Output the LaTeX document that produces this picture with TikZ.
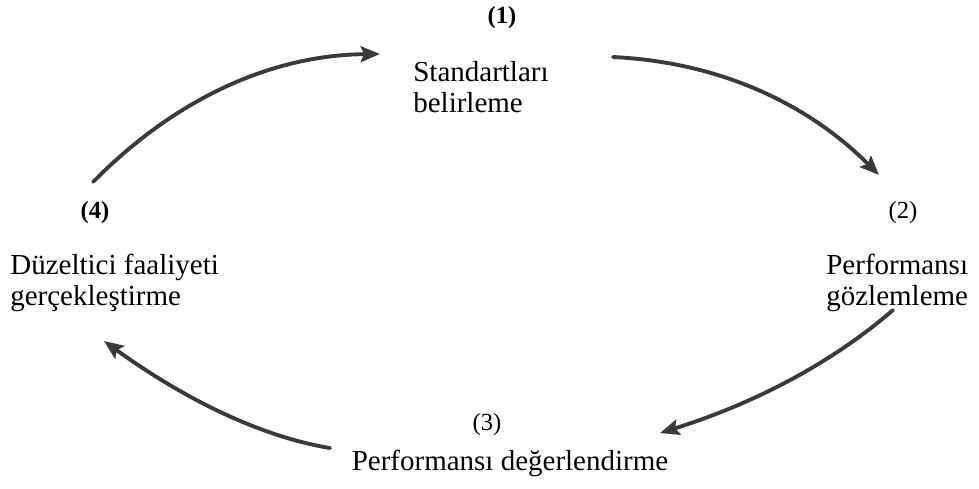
\documentclass[tikz,border=0pt]{standalone}
\usepackage{fontspec}
\setmainfont{Liberation Serif}
\usetikzlibrary{arrows.meta}
\definecolor{arrowgray}{HTML}{3A3A3A}
\begin{document}
\begin{tikzpicture}[x=0.02cm,y=-0.02cm,
  lbl/.style={inner sep=0pt, font=\fontsize{16.5}{18}\selectfont, align=left},
  num/.style={inner sep=0pt, font=\fontsize{14}{16}\selectfont},
  cyc/.style={draw=arrowgray, line width=2.2pt, line cap=round,
     -{Stealth[length=11pt,width=9pt,inset=2pt]}}]
\useasboundingbox (0,0) rectangle (979,488);
\fill[white] (0,0) rectangle (979,488);

\node[num,font=\fontsize{14}{16}\selectfont\bfseries] (n1) at (502,18) {(1)};
\node[lbl,anchor=west] (t1) at (413,87) {Standartları\\belirleme};

\node[num] (n2) at (903,213) {(2)};
\node[lbl,anchor=west] (t2) at (826,283) {Performansı\\gözlemleme};

\node[num] (n3) at (487,425) {(3)};
\node[lbl] (t3) at (510,463) {Performansı değerlendirme};

\node[num,font=\fontsize{14}{16}\selectfont\bfseries] (n4) at (95,213) {(4)};
\node[lbl,anchor=west] (t4) at (10,283) {Düzeltici faaliyeti\\gerçekleştirme};

\coordinate (a1s) at (93,182);   \coordinate (a1e) at (380,54);
\coordinate (a2s) at (613,57);   \coordinate (a2e) at (879,175);
\coordinate (a3s) at (893,310);  \coordinate (a3e) at (660,433);
\coordinate (a4s) at (330,448);  \coordinate (a4e) at (104,341);

\draw[cyc] (a1s) .. controls (176,98) and (272,55) .. (a1e);
\draw[cyc] (a2s) .. controls (716,62) and (805,101) .. (a2e);
\draw[cyc] (a3s) .. controls (833,362) and (756,403) .. (a3e);
\draw[cyc] (a4s) .. controls (263,437) and (187,401) .. (a4e);
\end{tikzpicture}
\end{document}
